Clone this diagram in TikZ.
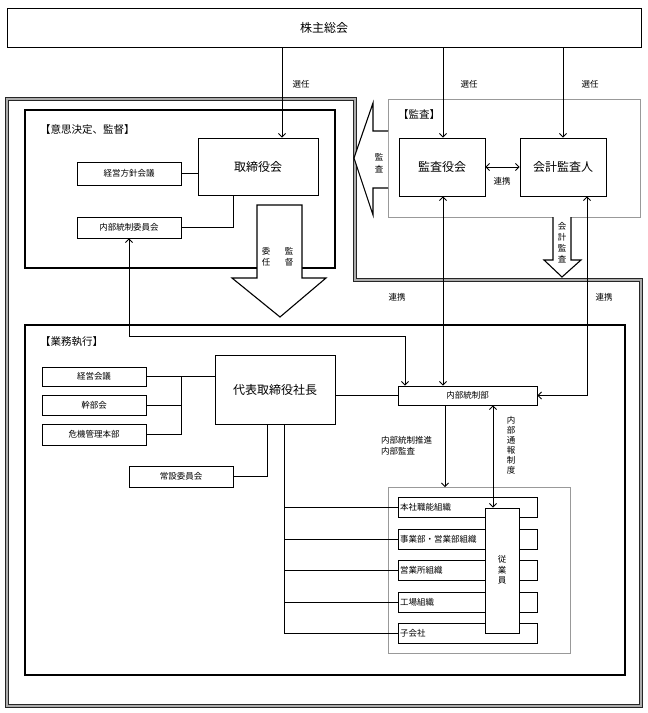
\documentclass[tikz,border=0pt]{standalone}
\usepackage{fontspec}
\setmainfont{Noto Sans CJK JP}
\usetikzlibrary{arrows.meta}
\begin{document}
\begin{tikzpicture}[x=1pt,y=-1pt,
  box/.style={draw, line width=0.9pt, fill=white, inner sep=0pt},
  bigt/.style={font=\fontsize{12}{14}\selectfont},
  smallt/.style={font=\fontsize{8.5}{10}\selectfont},
  lbl/.style={font=\fontsize{8.5}{11}\selectfont, inner sep=0pt, align=center},
  head/.style={font=\fontsize{10.5}{12}\selectfont, inner sep=0pt, anchor=west},
  org/.style={box, smallt, minimum height=20pt, text width=135pt, inner xsep=2pt, align=left},
  conn/.style={line width=0.8pt},
  arr/.style={conn, -{Straight Barb[length=3.5pt,width=7pt]}},
  darr/.style={conn, {Straight Barb[length=3.5pt,width=7pt]}-{Straight Barb[length=3.5pt,width=7pt]}},
  fat/.style={draw, line width=1.1pt, fill=white, line join=miter},
  frame/.style={draw=black!85, double=gray!65, double distance=1.3pt, line width=0.9pt},
  grayc/.style={draw=gray!80, line width=0.9pt},
  blackc/.style={draw, line width=1.2pt},
]
\useasboundingbox (0,0) rectangle (648,713);

% outer double frame
\draw[frame] (7,99) -- (355,99) -- (355,280) -- (641,280) -- (641,706) -- (7,706) -- cycle;

% containers
\draw[blackc] (25,110) rectangle (335,268);
\draw[grayc] (388,99) rectangle (640,217);
\draw[blackc] (25,325) rectangle (625,675);
\draw[grayc] (388,487) rectangle (570,653);

\node[head] (h1) at (40,130) {【意思決定、監督】};
\node[head] (h2) at (398,115) {【監査】};
\node[head] (h3) at (40,342) {【業務執行】};

% coordinates for connector columns
\coordinate (s1) at (282,0);
\coordinate (s2) at (443,0);
\coordinate (s3) at (563,0);
\coordinate (s4) at (587,0);
\coordinate (s6) at (493,0);
\coordinate (s7) at (267,0);
\coordinate (s8) at (284,0);
\coordinate (b1) at (181,0);
\coordinate (t1) at (233,0);
\coordinate (k1) at (405,336);
\coordinate (oc) at (445,487);

% nodes
\node[box, bigt, minimum width=634pt, minimum height=39pt] (kabu) at (324,27.5) {株主総会};
\node[box, bigt, minimum width=120pt, minimum height=57pt] (tori) at (258,166.5) {取締役会};
\node[box, smallt, minimum width=104pt, minimum height=23pt] (hoshin) at (129,173.5) {経営方針会議};
\node[box, smallt, minimum width=104pt, minimum height=21pt] (iin) at (129,227.5) {内部統制委員会};
\node[box, bigt, minimum width=86pt, minimum height=58pt] (kansayaku) at (442,167) {監査役会};
\node[box, bigt, minimum width=86pt, minimum height=58pt] (kaikei) at (563,167) {会計監査人};
\node[box, bigt, minimum width=120pt, minimum height=69pt] (daihyo) at (275,389.5) {代表取締役社長};
\node[box, smallt, minimum width=104pt, minimum height=19pt] (kk) at (94,376.5) {経営会議};
\node[box, smallt, minimum width=104pt, minimum height=20pt] (kanbu) at (94,405) {幹部会};
\node[box, smallt, minimum width=104pt, minimum height=21pt] (kiki) at (94,434.5) {危機管理本部};
\node[box, smallt, minimum width=104pt, minimum height=21pt] (josetsu) at (181,476.5) {常設委員会};
\node[box, smallt, minimum width=139pt, minimum height=19pt] (ntb) at (467.5,395.5) {内部統制部};
\node[org] (o1) at (467.5,507.5) {本社職能組織};
\node[org] (o2) at (467.5,539) {事業部・営業部組織};
\node[org] (o3) at (467.5,570.5) {営業所組織};
\node[org] (o4) at (467.5,602) {工場組織};
\node[org] (o5) at (467.5,633) {子会社};
\node[box, minimum width=34pt, minimum height=125pt] (jug) at (502,570.5) {};
\node[lbl, font=\fontsize{8.5}{10.5}\selectfont] (jugt) at (502,570) {従\\業\\員};

% fat arrows
\draw[fat] (302,205) -- (302,278) -- (326,278) -- (280,317) -- (232,278) -- (257,278) -- (257,205) -- cycle;
\node[lbl] (inin) at (266,257) {委\\任};
\node[lbl] (kantoku) at (289,257) {監\\督};
\draw[fat] (388,131) -- (373,131) -- (373,103) -- (354,158) -- (373,215) -- (373,188) -- (388,188);
\node[lbl, font=\fontsize{8.5}{12.5}\selectfont] (kansalbl) at (379,163) {監\\査};
\draw[fat] (553,217) -- (553,260) -- (544,260) -- (562,277) -- (581,260) -- (571,260) -- (571,217);
\node[lbl] (kaikeilbl) at (562,243) {会\\計\\監\\査};

% election arrows
\draw[arr] (kabu.south -| s1) -- (tori.north -| s1);
\draw[arr] (kabu.south -| s2) -- (kansayaku.north -| s2);
\draw[arr] (kabu.south -| s3) -- (kaikei.north -| s3);
\node[lbl] (sen1) at (301,84) {選任};
\node[lbl] (sen2) at (469,84) {選任};
\node[lbl] (sen3) at (590,84) {選任};

% decision box connectors
\draw[conn] (hoshin.east) -- (hoshin.east -| tori.west);
\draw[conn] (tori.south -| t1) |- (iin.east);

% audit connectors
\draw[darr] (kansayaku.east) -- (kaikei.west);
\node[lbl] (renkei1) at (502,181) {連携};
\draw[darr] (iin.south) |- (k1) -- (k1 |- ntb.north);
\draw[darr] (kansayaku.south -| s2) -- (ntb.north -| s2);
\draw[darr] (kaikei.south -| s4) |- (ntb.east);
\node[lbl] (renkei2) at (397,297) {連携};
\node[lbl] (renkei3) at (604,297) {連携};

% execution connectors
\draw[conn] (kk.east) -- (kk.east -| daihyo.west);
\draw[conn] (kanbu.east) -| (b1 |- kk.east);
\draw[conn] (kiki.east) -| (b1 |- kk.east);
\draw[conn] (daihyo.south -| s7) |- (josetsu.east);
\draw[conn] (daihyo.east |- ntb.west) -- (ntb.west);
\draw[conn] (daihyo.south -| s8) |- (o5.west);
\draw[conn] (s8 |- o1.west) -- (o1.west);
\draw[conn] (s8 |- o2.west) -- (o2.west);
\draw[conn] (s8 |- o3.west) -- (o3.west);
\draw[conn] (s8 |- o4.west) -- (o4.west);

\draw[arr] (ntb.south -| oc) -- (oc);
\node[lbl, anchor=west, align=left] (suishin) at (381,446) {内部統制推進\\内部監査};
\draw[darr] (ntb.south -| s6) -- (jug.north -| s6);
\node[lbl, font=\fontsize{8.5}{10}\selectfont] (tsuho) at (511,445) {内\\部\\通\\報\\制\\度};
\end{tikzpicture}
\end{document}
